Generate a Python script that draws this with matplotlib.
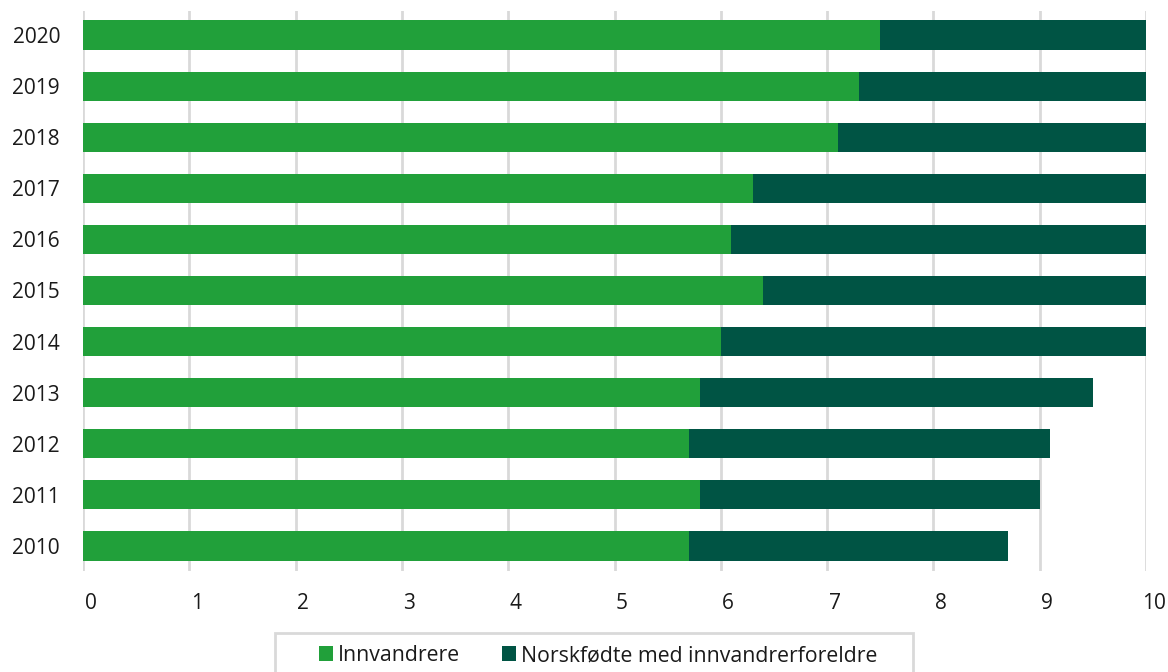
import matplotlib
matplotlib.use("Agg")
import matplotlib.pyplot as plt
from matplotlib.patches import Rectangle
import matplotlib.transforms as mtransforms

years = ["2010", "2011", "2012", "2013", "2014", "2015", "2016", "2017", "2018", "2019", "2020"]
innvandrere = [5.7, 5.8, 5.7, 5.8, 6.0, 6.4, 6.1, 6.3, 7.1, 7.3, 7.5]
norskfodte = [3.0, 3.2, 3.4, 3.7, 4.0, 3.6, 3.9, 3.7, 2.9, 2.7, 2.5]
xticks = [0, 1, 2, 3, 4, 5, 6, 7, 8, 9, 10]

plt.rcParams['font.family'] = ['Open Sans', 'DejaVu Sans']

W, H = 1168, 672
fig = plt.figure(figsize=(W / 100, H / 100), dpi=100)
ax = fig.add_axes([83 / W, 1 - 571 / H, (1146 - 83) / W, (571 - 11) / H])

green = "#21a03a"
dark = "#005444"
txt = "#1a1a1a"
pos = list(range(len(years)))
ax.barh(pos, innvandrere, height=0.57, color=green, label="Innvandrere", zorder=3)
ax.barh(pos, norskfodte, left=innvandrere, height=0.57, color=dark,
        label="Norskfødte med innvandrerforeldre", zorder=3)

ax.set_xlim(0, 10)
ax.set_ylim(-0.49, 10.47)
ax.set_yticks(pos)
ax.set_yticklabels(years)
ax.set_xticks(xticks)
ax.set_xticklabels([str(t) for t in xticks])
ax.xaxis.grid(True, color="#d9d9d9", linewidth=2, zorder=0)
for s in ax.spines.values():
    s.set_visible(False)
ax.tick_params(axis='y', length=0, labelsize=15, pad=16.5, colors=txt)
ax.tick_params(axis='x', length=0, labelsize=15, pad=16, colors=txt)
offset = mtransforms.ScaledTranslation(7.5 / 100, 0, fig.dpi_scale_trans)
for lab in ax.get_xticklabels():
    lab.set_horizontalalignment('center')
    lab.set_transform(lab.get_transform() + offset)

# legend frame
fig.patches.append(Rectangle((275 / W, -0.05), (913 - 275) / W, 0.05 + (1 - 633 / H),
                             transform=fig.transFigure, facecolor="none",
                             edgecolor="#d9d9d9", linewidth=2, zorder=5))
fs = 15.3
leg = fig.legend(loc="center left", bbox_to_anchor=(319 / W, 1 - 655.5 / H), ncol=2,
                 fontsize=fs, frameon=False, handlelength=14 / (fs * 100 / 72),
                 handleheight=14 / (fs * 100 / 72), handletextpad=0.22,
                 columnspacing=2.0, borderpad=0, borderaxespad=0)
for t in leg.get_texts():
    t.set_color(txt)

fig.savefig("out.png", dpi=100)
